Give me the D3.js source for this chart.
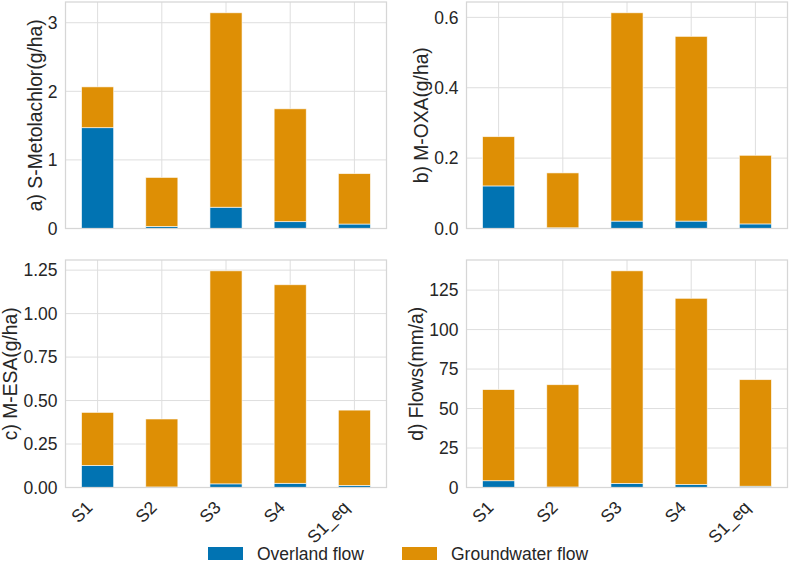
<!DOCTYPE html>
<html lang="en">
<head>
<meta charset="UTF-8">
<title>Loads by scenario</title>
<style>
  body { margin: 0; background: #fff; }
  text { font-family: "Liberation Sans", Arial, sans-serif; fill: #262626; }
</style>
</head>
<body>
<svg width="789" height="565"></svg>
<script src="https://d3js.org/d3.v7.min.js"></script>
<script>
const scenarios = ["S1", "S2", "S3", "S4", "S1_eq"];

// a) S-Metolachlor (g/ha)
const metolachlorOverland = [1.47, 0.03, 0.31, 0.10, 0.065];
const metolachlorGround   = [0.595, 0.715, 2.835, 1.645, 0.735];
// b) M-OXA (g/ha)
const oxaOverland = [0.121, 0.002, 0.021, 0.021, 0.013];
const oxaGround   = [0.140, 0.156, 0.592, 0.525, 0.195];
// c) M-ESA (g/ha)
const esaOverland = [0.127, 0.003, 0.021, 0.024, 0.012];
const esaGround   = [0.305, 0.391, 1.225, 1.142, 0.433];
// d) Flows (mm/a)
const flowOverland = [4.3, 0.3, 2.6, 1.9, 0.8];
const flowGround   = [57.7, 64.8, 134.6, 117.9, 67.5];

const seriesNames = ["Overland flow", "Groundwater flow"];
const colors = ["#0173b2", "#de8f05"];

const panels = [
  { label: "a) S-Metolachlor(g/ha)", over: metolachlorOverland, ground: metolachlorGround,
    ticks: [0, 1, 2, 3], fmt: d3.format("d"), col: 0, row: 0 },
  { label: "b) M-OXA(g/ha)", over: oxaOverland, ground: oxaGround,
    ticks: [0, 0.2, 0.4, 0.6], fmt: d3.format(".1f"), col: 1, row: 0 },
  { label: "c) M-ESA(g/ha)", over: esaOverland, ground: esaGround,
    ticks: [0, 0.25, 0.5, 0.75, 1.0, 1.25], fmt: d3.format(".2f"), col: 0, row: 1 },
  { label: "d) Flows(mm/a)", over: flowOverland, ground: flowGround,
    ticks: [0, 25, 50, 75, 100, 125], fmt: d3.format("d"), col: 1, row: 1 }
];

const cols = [[65.5, 386.5], [466.5, 787.5]];
const rows = [[2, 228.5], [260, 487.5]];
const gridColor = "#dedede";
const tickSize = 17.5, labelSize = 19.3;

const svg = d3.select("svg");

panels.forEach(p => {
  const [x0, x1] = cols[p.col];
  const [y0, y1] = rows[p.row];
  const totals = p.over.map((v, i) => v + p.ground[i]);

  const x = d3.scaleBand().domain(scenarios).range([x0, x1])
    .paddingInner(0.5).paddingOuter(0.25);
  const y = d3.scaleLinear().domain([0, d3.max(totals) * 1.05]).range([y1, y0]);

  const g = svg.append("g");

  // grid
  g.selectAll(".hg").data(p.ticks).join("line")
    .attr("x1", x0).attr("x2", x1)
    .attr("y1", d => y(d)).attr("y2", d => y(d))
    .attr("stroke", gridColor).attr("stroke-width", 1);
  g.selectAll(".vg").data(scenarios).join("line")
    .attr("x1", d => x(d) + x.bandwidth() / 2).attr("x2", d => x(d) + x.bandwidth() / 2)
    .attr("y1", y0).attr("y2", y1)
    .attr("stroke", gridColor).attr("stroke-width", 1);

  // stacked bars
  const stacks = [
    scenarios.map((s, i) => ({ s, lo: 0, hi: p.over[i] })),
    scenarios.map((s, i) => ({ s, lo: p.over[i], hi: totals[i] }))
  ];
  stacks.forEach((layer, k) => {
    g.selectAll(null).data(layer).join("rect")
      .attr("x", d => x(d.s))
      .attr("width", x.bandwidth())
      .attr("y", d => y(d.hi))
      .attr("height", d => y(d.lo) - y(d.hi))
      .attr("fill", colors[k])
      .attr("stroke", "#fff").attr("stroke-opacity", 0.75).attr("stroke-width", 0.8);
  });

  // frame
  g.append("rect")
    .attr("x", x0).attr("y", y0).attr("width", x1 - x0).attr("height", y1 - y0)
    .attr("fill", "none").attr("stroke", "#d6d6d6").attr("stroke-width", 1.25);

  // y tick labels
  const tl = g.selectAll(".yt").data(p.ticks).join("text")
    .attr("x", x0 - 8).attr("y", d => y(d)).attr("dy", "0.36em")
    .attr("text-anchor", "end").attr("font-size", tickSize)
    .text(d => p.fmt(d));
  let maxW = 0;
  tl.each(function () { maxW = Math.max(maxW, this.getComputedTextLength()); });

  // y label
  const lx = x0 - 8 - maxW - 6;
  g.append("text")
    .attr("transform", `translate(${lx},${(y0 + y1) / 2}) rotate(-90)`)
    .attr("text-anchor", "middle").attr("font-size", labelSize)
    .text(p.label);

  // x tick labels only on bottom row
  if (p.row === 1) {
    g.selectAll(".xt").data(scenarios).join("text")
      .attr("transform", d => `translate(${x(d) + x.bandwidth() / 2 - 4},${y1 + 21}) rotate(-45)`)
      .attr("text-anchor", "end").attr("font-size", tickSize)
      .text(d => d);
  }
});

// legend
const leg = svg.append("g");
const legItems = leg.selectAll("g").data(seriesNames).join("g");
legItems.append("rect").attr("width", 35).attr("height", 13)
  .attr("y", 547).attr("fill", (d, i) => colors[i]);
legItems.append("text").attr("x", 49).attr("y", 560).attr("font-size", tickSize).text(d => d);
let cx = 208;
legItems.each(function () {
  d3.select(this).attr("transform", `translate(${cx},0)`);
  cx += 49 + this.querySelector("text").getComputedTextLength() + 38;
});
</script>
</body>
</html>
